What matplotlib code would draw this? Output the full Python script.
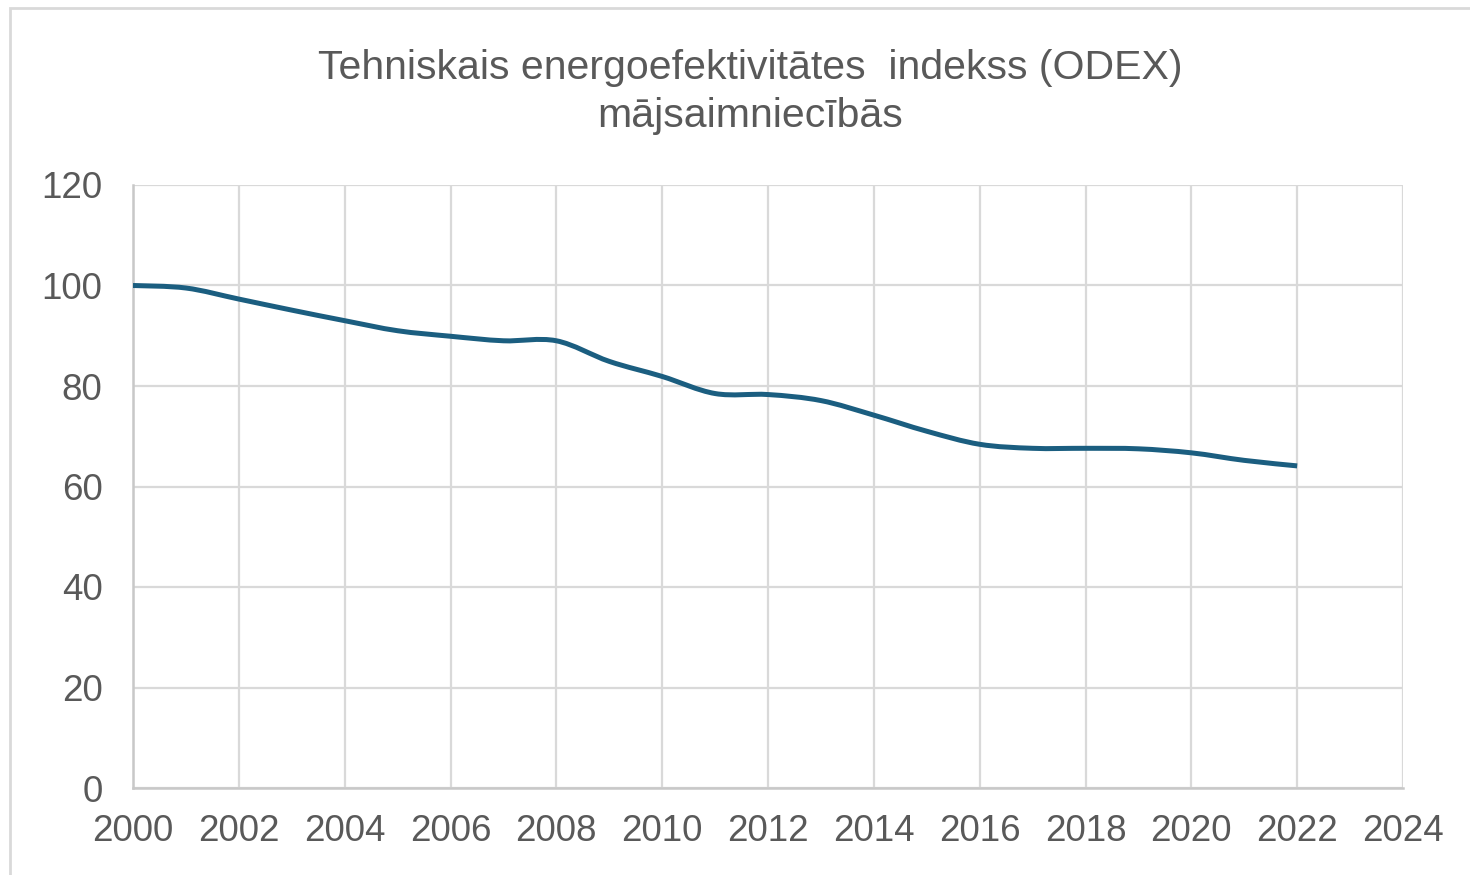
import numpy as np
import matplotlib
matplotlib.use("Agg")
import matplotlib.pyplot as plt
from matplotlib.path import Path
from matplotlib.patches import PathPatch, Rectangle

# Dati
gadi = [2000, 2001, 2002, 2003, 2004, 2005, 2006, 2007, 2008, 2009, 2010, 2011,
        2012, 2013, 2014, 2015, 2016, 2017, 2018, 2019, 2020, 2021, 2022]
odex = [100.0, 99.5, 97.3, 95.1, 93.0, 91.0, 89.9, 89.0, 89.0, 84.9, 81.9, 78.5,
        78.3, 77.1, 74.2, 71.0, 68.4, 67.6, 67.6, 67.5, 66.7, 65.2, 64.1]
y_ticks = [0, 20, 40, 60, 80, 100, 120]
x_ticks = list(range(2000, 2025, 2))
virsraksts_1 = "Tehniskais energoefektivitātes  indekss (ODEX)"
virsraksts_2 = "mājsaimniecībās"

plt.rcParams['font.family'] = ['Liberation Sans', 'DejaVu Sans']
teksta_krasa = "#595959"
grid_krasa = "#d9d9d9"
ass_krasa = "#c8c8c8"
linijas_krasa = "#1b5e80"

fig = plt.figure(figsize=(14.7, 8.75), dpi=100)
ax = fig.add_axes([133 / 1470, 87 / 875, 1270 / 1470, 603 / 875])

# gluda līnija (Bezier starp punktiem, kā Excel "smoothed line")
x = np.array(gadi, dtype=float)
y = np.array(odex, dtype=float)
verts = [(x[0], y[0])]
codes = [Path.MOVETO]
for i in range(len(x) - 1):
    x0, y0 = (x[i - 1], y[i - 1]) if i > 0 else (x[i], y[i])
    x3, y3 = (x[i + 2], y[i + 2]) if i + 2 < len(x) else (x[i + 1], y[i + 1])
    c1 = (x[i] + (x[i + 1] - x0) / 6, y[i] + (y[i + 1] - y0) / 6)
    c2 = (x[i + 1] - (x3 - x[i]) / 6, y[i + 1] - (y3 - y[i]) / 6)
    verts += [c1, c2, (x[i + 1], y[i + 1])]
    codes += [Path.CURVE4] * 3
ax.add_patch(PathPatch(Path(verts, codes), facecolor="none", edgecolor=linijas_krasa,
                       lw=3.6, capstyle="butt", zorder=3))
ax.plot(gadi, odex, alpha=0)

ax.set_xlim(2000, 2024)
ax.set_ylim(0, 120)
ax.set_xticks(x_ticks)
ax.set_yticks(y_ticks)
ax.grid(color=grid_krasa, linewidth=1.6)
ax.set_axisbelow(True)
for s in ax.spines.values():
    s.set_visible(False)
for s in ['left', 'bottom']:
    ax.spines[s].set_visible(True)
    ax.spines[s].set_color(ass_krasa)
    ax.spines[s].set_linewidth(1.8)
ax.tick_params(length=0, labelsize=26.5, labelcolor=teksta_krasa)
ax.tick_params(axis='x', pad=19)
ax.tick_params(axis='y', pad=22)

fig.text(750 / 1470, 1 - 68 / 875, virsraksts_1, ha="center", va="center",
         fontsize=29.5, color=teksta_krasa)
fig.text(750 / 1470, 1 - 116 / 875, virsraksts_2, ha="center", va="center",
         fontsize=29.5, color=teksta_krasa)

# rāmis ap diagrammu
fig.patches.append(Rectangle((10 / 1470, -0.1), 1.2, 1 - 8 / 875 + 0.1,
                             transform=fig.transFigure, fill=False,
                             edgecolor="#d9d9d9", lw=2))

fig.savefig("out.png", dpi=100, facecolor="white")
